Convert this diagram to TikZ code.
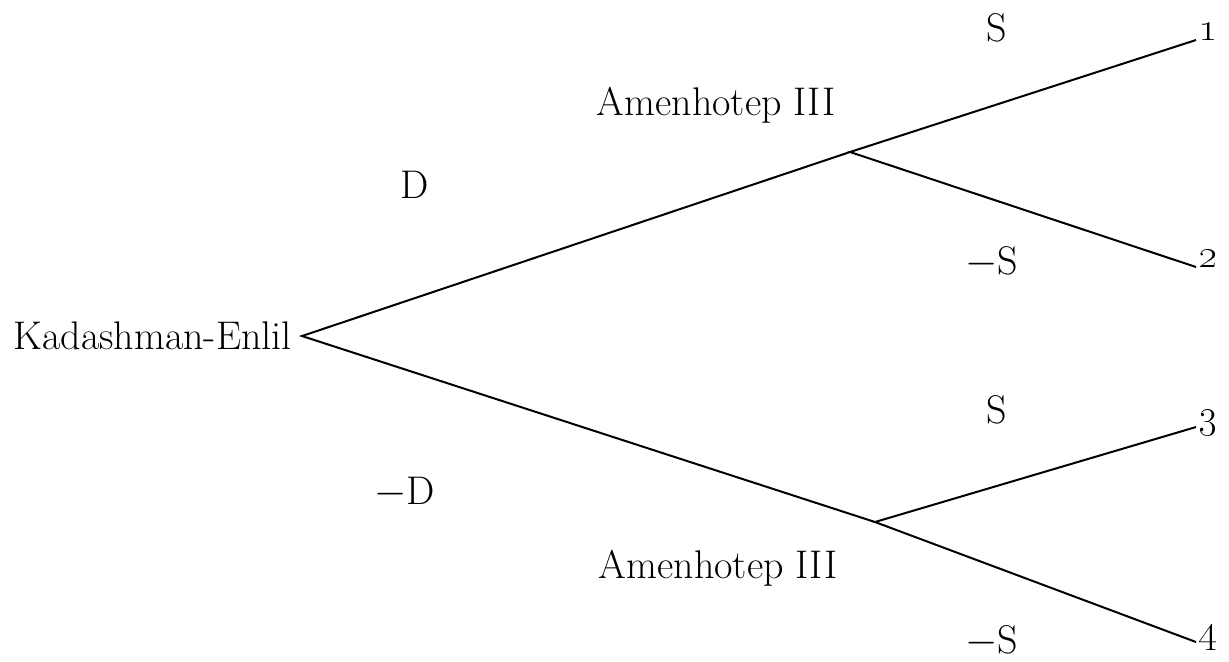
\documentclass[tikz,border=0pt]{standalone}
\begin{document}
\begin{tikzpicture}[x=0.5pt,y=-0.5pt,
  lbl/.style={font=\fontsize{20}{24}\selectfont, inner sep=0pt},
  branch/.style={line width=1pt, line join=miter}]
\useasboundingbox (0,0) rectangle (1229,661);
% players
\node[lbl, anchor=east, inner sep=5pt] (root) at (302,336) {Kadashman-Enlil};
\node[lbl] (amu) at (716,105) {Amenhotep III};
\node[lbl] (aml) at (718,568) {Amenhotep III};
% decision points
\coordinate (pu) at (850,152);
\coordinate (pl) at (875,522);
% outcomes
\node[lbl, anchor=base west, inner sep=1pt, font=\fontsize{22}{26}\selectfont] (o1) at (1196,40) {\oldstylenums{1}};
\node[lbl, anchor=base west, inner sep=1pt, font=\fontsize{22}{26}\selectfont] (o2) at (1196,267) {\oldstylenums{2}};
\node[lbl, anchor=base west, inner sep=1pt, font=\fontsize{22}{26}\selectfont] (o3) at (1196,427) {\oldstylenums{3}};
\node[lbl, anchor=base west, inner sep=1pt, font=\fontsize{22}{26}\selectfont] (o4) at (1196,642) {\oldstylenums{4}};
% move labels
\node[lbl] (d) at (415,185) {D};
\node[lbl] (nd) at (405,493) {$-$D};
\node[lbl] (s1) at (997,28) {S};
\node[lbl] (ns1) at (992,262) {$-$S};
\node[lbl] (s2) at (997,410) {S};
\node[lbl] (ns2) at (992,641) {$-$S};
% branches
\draw[branch] (pu) -- (root.east) -- (pl);
\draw[branch] (o1.base west) -- (pu) -- (o2.base west);
\draw[branch] (o3.base west) -- (pl) -- (o4.base west);
\end{tikzpicture}
\end{document}
